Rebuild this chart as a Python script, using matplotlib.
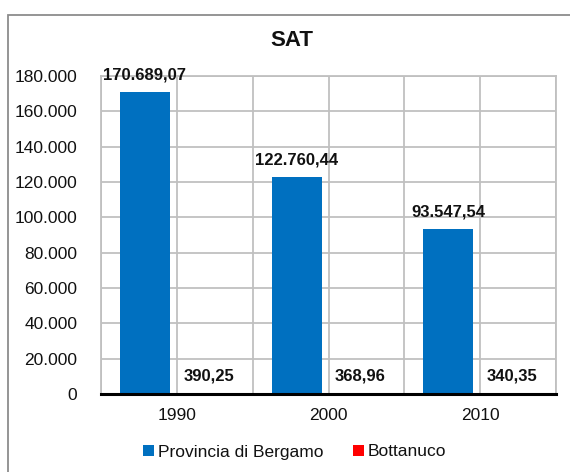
import matplotlib
matplotlib.use("Agg")
import matplotlib.pyplot as plt
from matplotlib.patches import Rectangle, Patch
from matplotlib.ticker import FuncFormatter, MultipleLocator
import numpy as np

plt.rcParams['font.family'] = ['Liberation Sans', 'DejaVu Sans']

years = ["1990", "2000", "2010"]
provincia = [170689.07, 122760.44, 93547.54]
bottanuco = [390.25, 368.96, 340.35]
series_names = ["Provincia di Bergamo", "Bottanuco"]
colors = ["#0070C0", "#FF0000"]


def it_number(v, decimals=2):
    s = f"{v:,.{decimals}f}"
    return s.replace(",", "X").replace(".", ",").replace("X", ".")


W, H = 570, 472
fig = plt.figure(figsize=(W / 100, H / 100), dpi=100)

# outer frame of the chart
fig.patches.append(Rectangle((8 / W, -0.05), 1.2, (472 - 15) / H + 0.05,
                             transform=fig.transFigure, fill=False,
                             edgecolor="#8c8c8c", linewidth=1.3))

ax = fig.add_axes([101 / W, (H - 394) / H, (556 - 101) / W, (394 - 76) / H])

x = np.arange(len(years))
bw = 0.33
off = 0.21
b1 = ax.bar(x - off, provincia, bw, color=colors[0], zorder=3)
b2 = ax.bar(x + off, bottanuco, bw, color=colors[1], zorder=3)

for bars, vals in ((b1, provincia), (b2, bottanuco)):
    for rect, v in zip(bars, vals):
        ax.annotate(it_number(v), (rect.get_x() + rect.get_width() / 2, v),
                    xytext=(0, 7), textcoords="offset points",
                    ha="center", va="bottom", fontsize=12, fontweight="bold",
                    color="#111111", zorder=5)

ax.set_xlim(-0.5, len(years) - 0.5)
ax.set_ylim(0, 180000)
ax.yaxis.set_major_locator(MultipleLocator(20000))
ax.yaxis.set_major_formatter(FuncFormatter(lambda v, p: it_number(v, 0)))
ax.set_xticks(x)
ax.set_xticklabels(years)
ax.xaxis.set_minor_locator(MultipleLocator(0.5))

ax.grid(True, which="major", axis="y", color="#c0c0c0", linewidth=1.3, zorder=0)
ax.grid(True, which="both", axis="x", color="#c0c0c0", linewidth=1.3, zorder=0)
ax.set_axisbelow(True)

for side in ("left", "right", "top"):
    ax.spines[side].set_color("#c0c0c0")
    ax.spines[side].set_linewidth(1.3)
ax.spines["bottom"].set_color("black")
ax.spines["bottom"].set_linewidth(2.2)
ax.spines["bottom"].set_zorder(4)

ax.tick_params(axis="both", which="both", length=0, labelsize=12.5, colors="#111111")
ax.tick_params(axis="y", pad=17)
ax.tick_params(axis="x", pad=10)

fig.text(292 / W, 1 - 40 / H, "SAT", ha="center", va="center",
         fontsize=16, fontweight="bold", color="#111111")

handles = [Patch(facecolor=c, edgecolor="none") for c in colors]
fig.legend(handles, series_names, loc="center", bbox_to_anchor=(295 / W, 1 - 452 / H),
           ncol=2, frameon=False, fontsize=12.5, handlelength=0.6, handleheight=0.6,
           handletextpad=0.25, columnspacing=1.7, labelcolor="#111111")

fig.savefig("out.png", dpi=100)
